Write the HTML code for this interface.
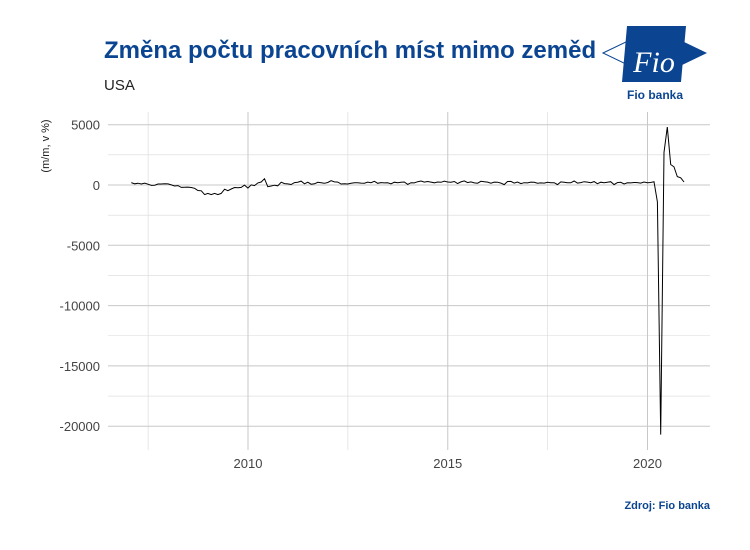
<!DOCTYPE html>
<html><head><meta charset="utf-8"><style>
body{margin:0;background:#fff;width:750px;height:550px;overflow:hidden}
svg{display:block;font-family:"Liberation Sans",sans-serif}
</style></head><body>
<svg id="c" width="750" height="550">
<text x="104" y="58" font-size="24" font-weight="bold" fill="#0b4591">Změna počtu pracovních míst mimo zeměd</text>
<text x="104" y="90" font-size="15" fill="#222">USA</text>
<text transform="translate(49,146) rotate(-90)" text-anchor="middle" font-size="11" fill="#222">(m/m, v %)</text>
<g>
<polygon points="603,53 630,40 630,66" fill="#fff" stroke="#0b4591" stroke-width="1"/>
<polygon points="707,53 680,40 680,66" fill="#0b4591"/>
<polygon points="627,26 686,26 681,82 622,82" fill="#0b4591"/>
<text x="654" y="72" text-anchor="middle" font-family="Liberation Serif,serif" font-style="italic" font-size="30" fill="#fff">Fio</text>
<text x="655" y="99" text-anchor="middle" font-size="12" font-weight="bold" fill="#0b4591">Fio banka</text>
</g>
<g id="grid"></g><g id="axes"></g><g id="series"></g>
<text x="710" y="509" text-anchor="end" font-size="11" font-weight="bold" fill="#0b4591">Zdroj: Fio banka</text>
</svg>
<script>
const yTicks=[5000,0,-5000,-10000,-15000,-20000];
const xTicks=[2010,2015,2020];
const startYear=2007;
const values=[
200,100,150,80,150,70,-30,-20,80,80,100,90,
10,-80,-50,-200,-180,-170,-210,-270,-460,-480,-800,-700,
-800,-700,-800,-700,-350,-470,-330,-210,-230,-200,-10,-260,
10,-50,170,250,520,-140,-80,-20,-70,230,120,90,
40,200,230,320,100,230,70,100,220,180,140,210,
360,260,240,80,110,80,140,190,180,160,150,240,
190,310,140,200,170,180,100,230,180,220,250,50,
190,170,270,330,240,290,240,180,250,220,320,250,
230,290,120,260,340,200,260,170,150,310,270,240,
150,240,230,160,30,290,300,160,250,120,190,170,
240,220,150,170,160,220,190,190,30,260,220,180,
180,330,160,200,270,240,190,280,110,230,180,230,
270,30,200,220,80,180,170,210,200,160,250,190,
210,270,-1400,-20700,2700,4800,1700,1500,700,600,250];
const L=108,R=710,T=112,B=450;
const xs=t=>248+(t-2010)*39.95;
const ys=v=>185-v*0.01206;
const NS="http://www.w3.org/2000/svg";
function mk(tag,attrs,parent,txt){const e=document.createElementNS(NS,tag);for(const k in attrs)e.setAttribute(k,attrs[k]);if(txt!=null)e.textContent=txt;parent.appendChild(e);return e;}
const g=document.getElementById('grid'),a=document.getElementById('axes'),s=document.getElementById('series');
for(let i=0;i<yTicks.length-1;i++){const v=(yTicks[i]+yTicks[i+1])/2;const l=mk('line',{x1:L,x2:R,y1:ys(v),y2:ys(v),stroke:'#d9d9d9','stroke-width':0.6},g);

}
for(let i=0;i<xTicks.length;i++){const v=xTicks[i]-2.5;const l=mk('line',{x1:xs(v),x2:xs(v),y1:T,y2:B,stroke:'#d9d9d9','stroke-width':0.6},g);

}
yTicks.forEach(v=>{const l=mk('line',{x1:L,x2:R,y1:ys(v),y2:ys(v),stroke:'#c8c8c8','stroke-width':1},g);


const t=mk('text',{x:100,y:ys(v)+5,'text-anchor':'end','font-size':13,fill:'#444'},a,String(v));

});
xTicks.forEach(v=>{const l=mk('line',{x1:xs(v),x2:xs(v),y1:T,y2:B,stroke:'#c8c8c8','stroke-width':1},g);


const t=mk('text',{x:xs(v),y:468,'text-anchor':'middle','font-size':13,fill:'#444'},a,String(v));

});
const pts=values.map((v,i)=>xs(startYear+i/12+0.08).toFixed(1)+','+ys(v).toFixed(1)).join(' ');
const pl=mk('polyline',{points:pts,fill:'none',stroke:'#000','stroke-width':1},s);


</script>
</body></html>
